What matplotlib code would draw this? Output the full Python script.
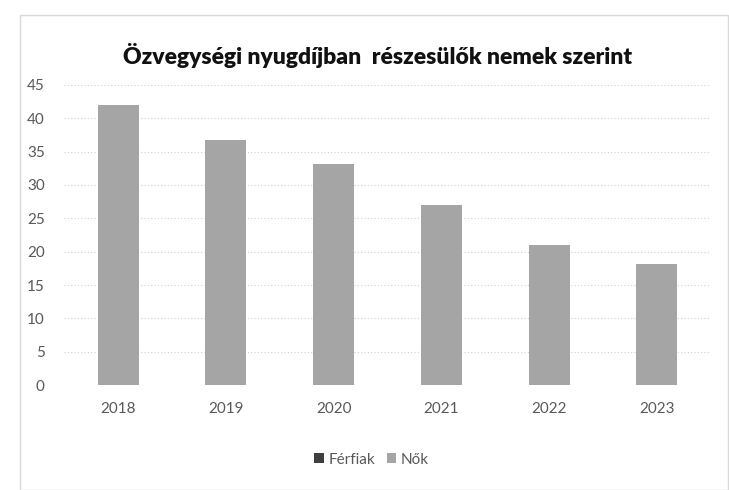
import matplotlib
matplotlib.use("Agg")
import matplotlib.pyplot as plt
from matplotlib.patches import Rectangle

years = ["2018", "2019", "2020", "2021", "2022", "2023"]
ferfiak = [0, 0, 0, 0, 0, 0]
nok = [42.0, 36.7, 33.2, 27.0, 21.0, 18.2]
yticks = [0, 5, 10, 15, 20, 25, 30, 35, 40, 45]

plt.rcParams['font.family'] = ['Lato', 'DejaVu Sans']

fig = plt.figure(figsize=(7.29, 4.90), dpi=100)
fig.patch.set_facecolor("white")
ax = fig.add_axes([0.088, 0.214, 0.887, 0.613])

x = range(len(years))
ax.bar(x, ferfiak, width=0.38, color="#3f3f3f", label="Férfiak", zorder=3)
ax.bar(x, nok, width=0.38, bottom=ferfiak, color="#a5a5a5", label="Nők", zorder=3)

ax.set_ylim(0, 45)
ax.set_xlim(-0.5, len(years) - 0.5)
ax.set_yticks(yticks)
ax.set_xticks(list(x))
ax.set_xticklabels(years)
ax.yaxis.grid(True, color="#d0d0d0", linestyle=(0, (1, 2)), linewidth=0.8, zorder=0)
ax.tick_params(axis="both", length=0, colors="#595959", labelsize=11)
ax.tick_params(axis="x", pad=12)
ax.tick_params(axis="y", pad=14)
for s in ax.spines.values():
    s.set_visible(False)

fig.text(0.518, 0.887, "Özvegységi nyugdíjban  részesülők nemek szerint",
         ha="center", va="center", fontsize=16.5, fontweight="heavy", color="#111111")

fig.legend(loc="center", bbox_to_anchor=(0.51, 0.062), ncol=2, frameon=False,
           fontsize=11, handlelength=0.6, handleheight=0.6, handletextpad=0.3,
           columnspacing=0.8, labelcolor="#595959")

fig.patches.append(Rectangle((0.028, 0.0), 0.97, 0.97, transform=fig.transFigure,
                             fill=False, edgecolor="#d9d9d9", linewidth=1.0))

fig.savefig("out.png", dpi=100)
